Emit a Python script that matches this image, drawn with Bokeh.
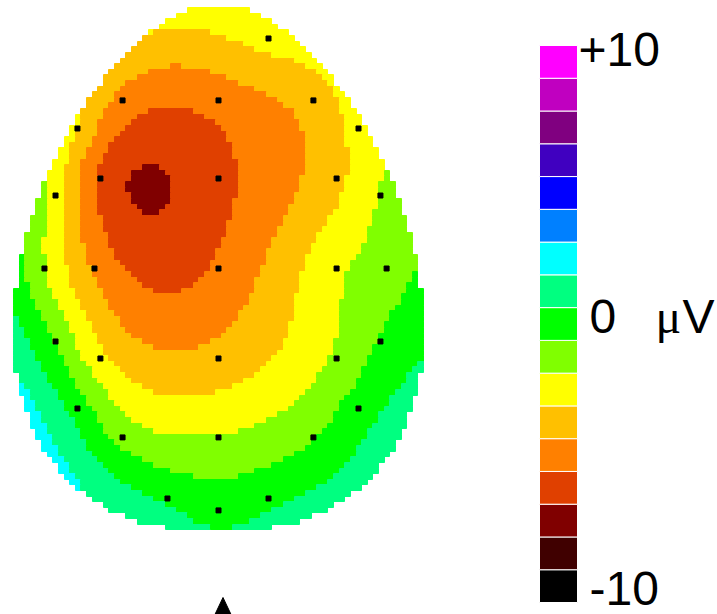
import numpy as np
from bokeh.plotting import figure
from bokeh.models import Range1d
from bokeh.embed import file_html
from bokeh.resources import INLINE
from bokeh.core.properties import value

# Electrode montage in head-radius units (x to the right, y toward the top of the map)
elec_x = [0.244, -0.468, 0.000, 0.463, -0.688, 0.683, -0.576, 0.000, 0.576, -0.795,
          0.790, -0.849, -0.605, 0.000, 0.576, 0.820, -0.795, -0.576, 0.000, 0.576,
          0.790, -0.688, 0.683, -0.468, 0.000, 0.463, -0.249, 0.244, 0.000]
elec_y = [1.122, 0.820, 0.820, 0.820, 0.683, 0.683, 0.439, 0.439, 0.439, 0.356,
          0.356, 0.000, 0.000, 0.000, 0.000, 0.000, -0.356, -0.439, -0.439, -0.439,
          -0.356, -0.683, -0.683, -0.824, -0.824, -0.824, -1.122, -1.122, -1.180]
# Potential at each electrode, microvolts
elec_uv = [-2.5, -4.5, -4.8, -3.6, -2.9, -2.5, -5.6, -5.6, -3.3, -2.2,
           -1.7, -1.7, -4.3, -5.1, -2.0, -1.2, -0.7, -2.6, -3.7, -1.6,
           -0.5, 0.1, 0.0, -1.0, -1.7, -0.7, 0.4, 0.3, 0.1]

# Colour scale: 17 equal steps from -10 to +10 microvolts (bottom to top)
level_colors = ["#000000", "#400000", "#800000", "#e04000", "#ff8000", "#ffc000",
                "#ffff00", "#80ff00", "#00ff00", "#00ff80", "#00ffff", "#0080ff",
                "#0000ff", "#4000c0", "#800080", "#c000c0", "#ff00ff"]
scale_min, scale_max = -10.0, 10.0

# --- page geometry (pixels) ---
W, H = 717, 614
CX, CY, R = 218.0, 268.0, 205.0        # head centre and px per head unit
X0, Y0, CELL = 13.0, 7.0, 5.616        # raster grid origin and cell size
NX, NY = 73, 93
Y_WIDE, RY_TOP, RY_BOT = 335.0, 330.0, 195.0


def half_width(yc):
    """Half width of the egg-shaped scalp outline at screen row yc."""
    if yc <= Y_WIDE:
        t = min((Y_WIDE - yc) / RY_TOP, 1.0)
        return R * np.sqrt(max(1 - t * t, 0.0)) * (1 - 0.19 * t * t)
    t = min((yc - Y_WIDE) / RY_BOT, 1.0)
    return R * max(1 - t * t, 0.0) ** 0.4


# Thin-plate spline through the electrode potentials
ex = np.array(elec_x)
ey = np.array(elec_y)
ev = np.array(elec_uv)
n = len(ev)


def tps_kernel(r):
    with np.errstate(divide="ignore", invalid="ignore"):
        k = r * r * np.log(r)
    return np.nan_to_num(k)


d = np.hypot(ex[:, None] - ex[None, :], ey[:, None] - ey[None, :])
A = np.zeros((n + 3, n + 3))
A[:n, :n] = tps_kernel(d)
P = np.column_stack([np.ones(n), ex, ey])
A[:n, n:] = P
A[n:, :n] = P.T
rhs = np.concatenate([ev, np.zeros(3)])
coef = np.linalg.solve(A, rhs)
wts, aff = coef[:n], coef[n:]


def field(hx, hy):
    r = np.hypot(hx[..., None] - ex, hy[..., None] - ey)
    return tps_kernel(r) @ wts + aff[0] + aff[1] * hx + aff[2] * hy


step = (scale_max - scale_min) / len(level_colors)

left, right, top, bottom, fill = [], [], [], [], []
for j in range(NY):
    yc = Y0 + (j + 0.5) * CELL
    xc = X0 + (np.arange(NX) + 0.5) * CELL
    inside = np.abs(xc - CX) <= half_width(yc)
    hx = (xc - CX) / R
    hy = np.full(NX, (CY - yc) / R)
    vals = field(hx, hy)
    idx = np.clip(np.floor((vals - scale_min) / step).astype(int), 0, len(level_colors) - 1)
    i = 0
    while i < NX:
        if not inside[i]:
            i += 1
            continue
        k = i
        while k + 1 < NX and inside[k + 1] and idx[k + 1] == idx[i]:
            k += 1
        left.append(round(X0 + i * CELL))
        right.append(round(X0 + (k + 1) * CELL))
        top.append(round(Y0 + j * CELL))
        bottom.append(round(Y0 + (j + 1) * CELL))
        fill.append(level_colors[idx[i]])
        i = k + 1

p = figure(width=W, height=H, x_range=Range1d(0, W), y_range=Range1d(H, 0),
           output_backend="svg", toolbar_location=None, min_border=0)
p.axis.visible = False
p.grid.visible = False
p.outline_line_color = None
p.background_fill_color = "white"
p.border_fill_color = "white"

# raster cells; an outline in the fill colour closes anti-aliasing seams
p.quad(left=left, right=right, top=top, bottom=bottom, fill_color=fill,
       line_color=fill, line_width=1)

# electrode sites
p.scatter(CX + ex * R, CY - ey * R, marker="square", size=5, color="black")

# nose marker below the scalp
nose_x, nose_y = CX + 4.5, 597.0
p.patch([nose_x - 9, nose_x, nose_x + 9], [616, nose_y, 616], color="black")

# colour bar
CB_L, CB_R, CB_TOP, CB_BOT = 539, 577, 45.0, 602.0
seg = (CB_BOT - CB_TOP) / len(level_colors)
nlev = len(level_colors)
p.quad(left=[CB_L] * nlev, right=[CB_R] * nlev,
       top=[CB_TOP + (nlev - 1 - k) * seg for k in range(nlev)],
       bottom=[CB_TOP + (nlev - k) * seg for k in range(nlev)],
       fill_color=level_colors, line_color="white", line_width=1)

font = value("Liberation Sans")
FS = "48px"
LIFT = 22   # baseline correction for the text glyphs
p.text(x=[578], y=[71 - LIFT], text=["+10"], text_font=font, text_font_size=FS,
       text_baseline="alphabetic", color="black")
p.text(x=[589], y=[338 - LIFT], text=["0"], text_font=font, text_font_size=FS,
       text_baseline="alphabetic", color="black")
p.text(x=[655], y=[338 - LIFT], text=["\u03bc"], text_font=value("Liberation Serif"),
       text_font_size=FS, text_baseline="alphabetic", color="black")
p.text(x=[682], y=[338 - LIFT], text=["V"], text_font=font, text_font_size=FS,
       text_baseline="alphabetic", color="black")
p.text(x=[589], y=[610 - LIFT], text=["-10"], text_font=font, text_font_size=FS,
       text_baseline="alphabetic", color="black")

open("out.html", "w").write(file_html(p, INLINE))
